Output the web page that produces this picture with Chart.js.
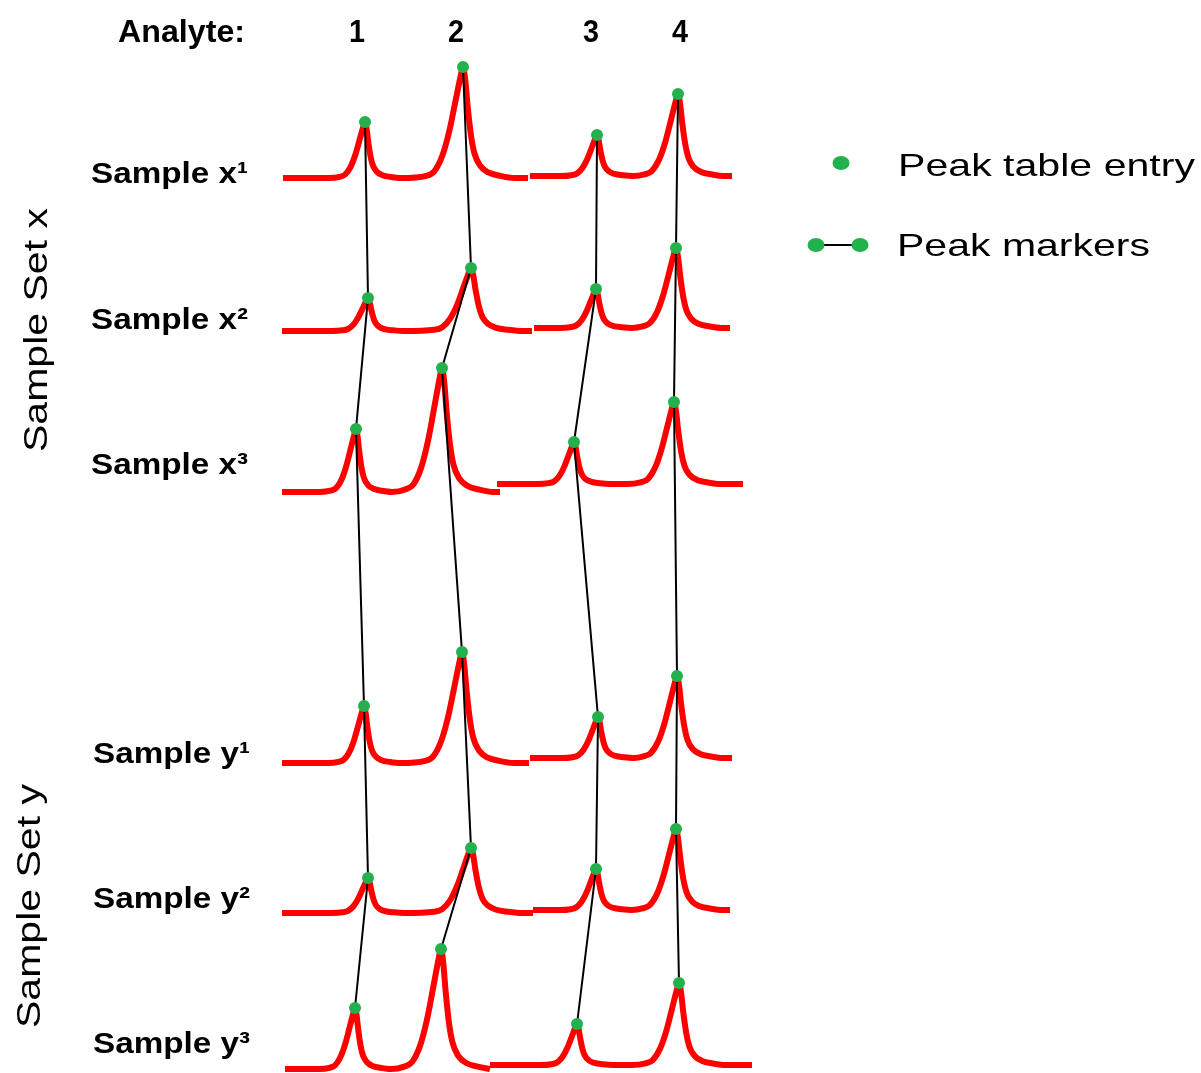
<!DOCTYPE html>
<html>
<head>
<meta charset="utf-8">
<title>Peak tracking</title>
<script src="https://cdn.jsdelivr.net/npm/chart.js@4.4.1/dist/chart.umd.min.js"></script>
<style>
html, body { margin: 0; padding: 0; background: #fff; }
#wrap { width: 1201px; height: 1073px; position: relative; }
</style>
</head>
<body>
<div id="wrap"><canvas id="peakChart"></canvas></div>
<script>
// samples, top to bottom
var samples = ['x1', 'x2', 'x3', 'y1', 'y2', 'y3'];
var sampleLabels = ['Sample x¹', 'Sample x²', 'Sample x³', 'Sample y¹', 'Sample y²', 'Sample y³'];
var analytes = ['1', '2', '3', '4'];
var analyteLabelRt = [1.925, 4.4, 7.775, 10.0];

// retention time of each peak apex (min), one row per sample
var retentionTimes = [
    [2.125, 4.575, 7.925, 9.95],
    [2.2, 4.775, 7.9, 9.9],
    [1.9, 4.05, 7.35, 9.85],
    [2.1, 4.55, 7.95, 9.925],
    [2.2, 4.775, 7.9, 9.9],
    [1.875, 4.025, 7.425, 9.975]
];
// peak height above baseline (mAU)
var peakHeights = [
    [28, 55.5, 20.5, 41],
    [16.5, 31.5, 19.5, 40],
    [31.5, 62, 21, 41],
    [28.5, 55.5, 20.5, 41],
    [17.5, 32.5, 20.5, 40.5],
    [30.5, 60, 20.5, 41]
];
// baseline of each trace (offset signal): run A holds analytes 1-2, run B analytes 3-4
var baselineA = [447.5, 371, 290.5, 155, 80, 2];
var baselineB = [448.5, 372.5, 294.5, 157.5, 81.5, 4];
// time window of each run (min)
var runA = [[0.075, 6.2], [0.05, 6.3], [0.05, 5.5], [0.05, 6.225], [0.05, 6.325], [0.125, 5.25]];
var runB = [[6.25, 11.3], [6.35, 11.25], [5.425, 11.575], [6.25, 11.3], [6.325, 11.25], [5.25, 11.8]];
// peak profile: offset from apex (min) and fraction of height
var profileDt = [-1.125, -0.8, -0.625, -0.45, -0.3, -0.15, -0.05, 0, 0.05, 0.1, 0.175, 0.25, 0.375, 0.55, 0.8, 1.125];
var profileFrac = [0, 0.02, 0.06, 0.2, 0.42, 0.72, 0.92, 1, 0.88, 0.65, 0.38, 0.22, 0.11, 0.05, 0.02, 0];
var peakWidth = [0.8, 1.15, 0.8, 1.05];

var RED = '#ff0000';
var GREEN = '#22b14c';
var FONT = '"Liberation Sans", Arial, sans-serif';

function baseOf(s, a) {
    return a < 2 ? baselineA[s] : baselineB[s];
}

// one run of a chromatogram as a list of points
function buildRun(s, win, base, peaks) {
    var pts = [{ x: win[0], y: base }];
    peaks.forEach(function (a, i) {
        var rt = retentionTimes[s][a];
        var lo = i == 0 ? win[0] : (retentionTimes[s][peaks[i - 1]] + rt) / 2;
        var hi = i == peaks.length - 1 ? win[1] : (retentionTimes[s][peaks[i + 1]] + rt) / 2;
        for (var k = 0; k < profileDt.length; k++) {
            var t = rt + profileDt[k] * peakWidth[a];
            if (t > lo && t < hi) {
                pts.push({ x: t, y: base + peakHeights[s][a] * profileFrac[k] });
            }
        }
    });
    pts.push({ x: win[1], y: base });
    return pts;
}

var datasets = [];

// green apex markers (on top)
var apexPoints = [];
samples.forEach(function (name, s) {
    analytes.forEach(function (an, a) {
        apexPoints.push({ x: retentionTimes[s][a], y: baseOf(s, a) + peakHeights[s][a] });
    });
});
datasets.push({
    label: 'Peak table entry',
    data: apexPoints,
    showLine: false,
    pointRadius: 6,
    pointBackgroundColor: GREEN,
    pointBorderWidth: 0,
    order: 0
});

// black lines linking the same analyte across samples
analytes.forEach(function (an, a) {
    datasets.push({
        label: 'Analyte ' + an,
        data: samples.map(function (name, s) {
            return { x: retentionTimes[s][a], y: baseOf(s, a) + peakHeights[s][a] };
        }),
        borderColor: '#000',
        borderWidth: 2,
        pointRadius: 0,
        tension: 0,
        order: 1
    });
});

// red chromatograms
samples.forEach(function (name, s) {
    [[runA[s], baselineA[s], [0, 1]], [runB[s], baselineB[s], [2, 3]]].forEach(function (r) {
        datasets.push({
            label: 'Sample ' + name,
            data: buildRun(s, r[0], r[1], r[2]),
            borderColor: RED,
            borderWidth: 6,
            borderJoinStyle: 'round',
            pointRadius: 0,
            cubicInterpolationMode: 'monotone',
            order: 2
        });
    });
});

// text drawn squeezed/stretched to the width it has in the figure
function fitText(ctx, text, x, y, width, font, align) {
    ctx.save();
    ctx.font = font;
    var w = ctx.measureText(text).width;
    ctx.translate(x, y);
    ctx.scale(width / w, 1);
    ctx.textAlign = align || 'left';
    ctx.textBaseline = 'alphabetic';
    ctx.fillText(text, 0, 0);
    ctx.restore();
}

function dot(ctx, x, y) {
    ctx.beginPath();
    ctx.ellipse(x, y, 8.5, 7, 0, 0, Math.PI * 2);
    ctx.fillStyle = GREEN;
    ctx.fill();
}

var labelsPlugin = {
    id: 'labels',
    afterDraw: function (chart) {
        var ctx = chart.ctx;
        var xs = chart.scales.x;
        ctx.fillStyle = '#000';

        fitText(ctx, 'Analyte:', 118, 42, 127, 'bold 32px ' + FONT);
        analytes.forEach(function (an, a) {
            ctx.fillStyle = '#000';
            fitText(ctx, an, xs.getPixelForValue(analyteLabelRt[a]), 42, 16, 'bold 32px ' + FONT, 'center');
        });

        var lblY = [183, 329, 474, 763, 908, 1053];
        sampleLabels.forEach(function (t, s) {
            ctx.fillStyle = '#000';
            fitText(ctx, t, s < 3 ? 91 : 93, lblY[s], 157, 'bold 30px ' + FONT);
        });

        // rotated set titles
        [['Sample Set x', 47, 330], ['Sample Set y', 40, 906]].forEach(function (g) {
            ctx.save();
            ctx.translate(g[1], g[2]);
            ctx.rotate(-Math.PI / 2);
            ctx.fillStyle = '#000';
            fitText(ctx, g[0], 0, 0, 244, '34px ' + FONT, 'center');
            ctx.restore();
        });

        // legend
        dot(ctx, 841, 163);
        ctx.fillStyle = '#000';
        fitText(ctx, 'Peak table entry', 898, 176, 297, '32px ' + FONT);
        ctx.beginPath();
        ctx.moveTo(818, 245);
        ctx.lineTo(858, 245);
        ctx.strokeStyle = '#000';
        ctx.lineWidth = 2;
        ctx.stroke();
        dot(ctx, 816, 245);
        dot(ctx, 860, 245);
        ctx.fillStyle = '#000';
        fitText(ctx, 'Peak markers', 897, 256, 253, '32px ' + FONT);
    }
};

new Chart(document.getElementById('peakChart'), {
    type: 'line',
    data: { datasets: datasets },
    options: {
        responsive: true,
        maintainAspectRatio: false,
        devicePixelRatio: 1,
        animation: false,
        layout: { padding: 0, autoPadding: false },
        scales: {
            x: { type: 'linear', min: -7, max: 23.025, display: false },
            y: { type: 'linear', min: 0, max: 536.5, display: false }
        },
        plugins: {
            legend: { display: false },
            tooltip: { enabled: false }
        }
    },
    plugins: [labelsPlugin]
});
</script>
</body>
</html>
